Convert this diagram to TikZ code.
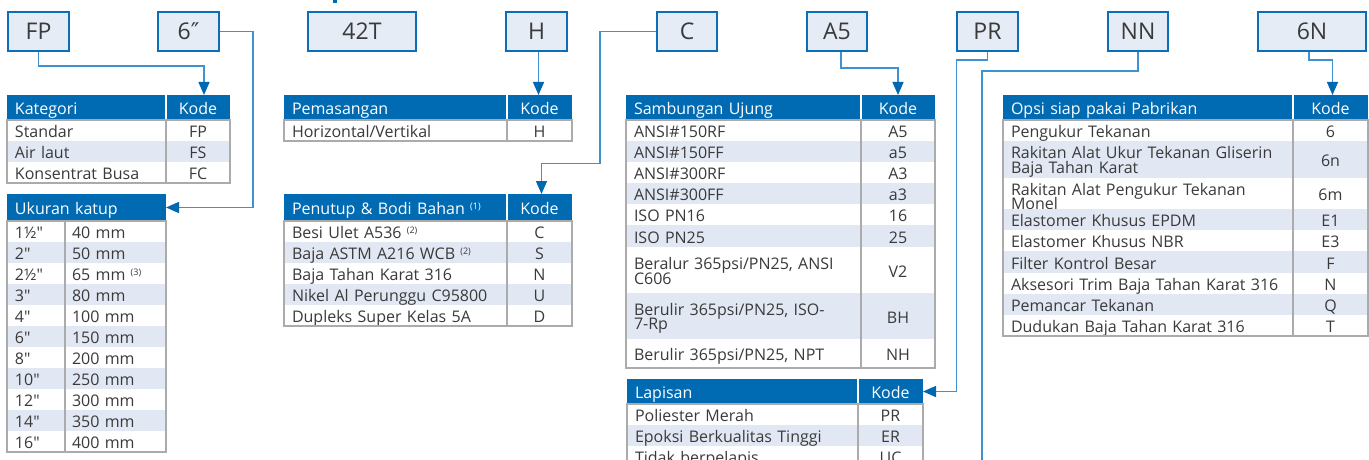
\documentclass[tikz,border=0pt]{standalone}
\usepackage{fontspec}
\setmainfont{Open Sans}
\newfontfamily\djv{DejaVu Sans}
\usetikzlibrary{arrows.meta}
\definecolor{hdrblue}{HTML}{006BB3}
\definecolor{rowblue}{HTML}{E1E8F4}
\definecolor{boxfill}{HTML}{E5ECF6}
\definecolor{boxline}{HTML}{0C6EB8}
\definecolor{lineblue}{HTML}{3F92D2}
\definecolor{tipblue}{HTML}{0067B1}
\definecolor{gridgray}{HTML}{ABABAB}
\definecolor{ink}{HTML}{3A3A3A}
\newcommand\bodyfont{\fontsize{16}{14.5}\selectfont\lineskiplimit=-30pt\lineskip=0pt}
\newcommand\cst{\rule[-2.6pt]{0pt}{19.6pt}}
\newcommand\inch{\textquotedbl}
\newcommand\fnote[1]{\raisebox{0.55ex}{\fontsize{9}{9}\selectfont(#1)}}
\newcommand\settab[3]{\def\tXa{#1}\def\tXd{#2}\def\tXb{#3}%
  \pgfmathsetmacro\tabLW{#2-#1-16}\pgfmathsetmacro\tabRW{#3-#2}}
\newcommand\trow[6]{\pgfmathsetmacro\tabHH{#3-#2}%
  \node[cellL,#4,text width=\tabLW pt,minimum height=\tabHH pt] (#1l) at (\tXa,#2) {\cst#5\cst};%
  \node[cellR,#4,minimum width=\tabRW pt,minimum height=\tabHH pt] (#1r) at (\tXd,#2) {\cst#6\cst};}
\newcommand\thead[5]{\trow{#1}{#2}{#3}{fill=hdrblue,text=white}{#4}{#5}%
  \draw[white,line width=1.3pt] (\tXd,#2) -- (\tXd,#3);}
\newcommand\tframe[2]{\draw[grid] (\tXa,#1) rectangle (\tXb,#2); \draw[grid] (\tXd,#1) -- (\tXd,#2);}
\newcommand\urow[5]{%
  \node[cellL,fill=#3,text width=42pt,minimum height=21pt] (#1l) at (7,#2) {\cst#4\cst};%
  \node[cellL,inner xsep=7pt,fill=#3,text width=87pt,minimum height=21pt] (#1r) at (65,#2) {\cst#5\cst};}
\begin{document}
\begin{tikzpicture}[x=1pt,y=-1pt,
  topbox/.style={draw=boxline,line width=2pt,fill=boxfill,minimum height=39pt,text=ink,font=\fontsize{23}{23}\selectfont,inner sep=0pt},
  cellL/.style={anchor=north west,inner xsep=8pt,inner ysep=0pt,outer sep=0pt,align=left,text=ink,font=\bodyfont},
  cellR/.style={anchor=north west,inner sep=0pt,outer sep=0pt,align=center,text=ink,font=\bodyfont},
  conn/.style={draw=lineblue,line width=1.4pt},
  arr/.style={conn,-{Triangle[width=11pt,length=13pt,color=tipblue]}},
  grid/.style={draw=gridgray,line width=1.3pt},
]
\useasboundingbox (0,0) rectangle (1369,460);
\clip (0,0) rectangle (1369,460);
\fill[hdrblue] (333,0) rectangle (337,3.5);

% top code boxes
\node[topbox,minimum width=61pt] (fp) at (38.5,31.5) {FP};
\node[topbox,minimum width=61pt] (six) at (188.5,31.5) {6{\djv ″}};
\node[topbox,minimum width=108pt] (t42) at (362,31.5) {42T};
\node[topbox,minimum width=61pt] (h) at (536.5,31.5) {H};
\node[topbox,minimum width=60pt] (c) at (687,31.5) {C};
\node[topbox,minimum width=60pt] (a5) at (837,31.5) {A5};
\node[topbox,minimum width=61pt] (pr) at (987.5,31.5) {PR};
\node[topbox,minimum width=60pt] (nn) at (1138,31.5) {NN};
\node[topbox,minimum width=108pt] (sixn) at (1312,31.5) {6N};

% Kategori
\settab{7}{166}{230}
\thead{kat}{95}{120}{Kategori}{Kode}
\trow{kat1}{120}{141}{fill=white}{Standar}{FP}
\trow{kat2}{141}{162}{fill=rowblue}{Air laut}{FS}
\trow{kat3}{162}{183}{fill=white}{Konsentrat Busa}{FC}
\tframe{120}{183}

% Ukuran katup
\node[cellL,fill=hdrblue,text=white,text width=143pt,minimum height=27pt] (ukh) at (7,194) {\cst Ukuran katup\cst};
\urow{uk1}{221}{white}{1½\inch}{40 mm}
\urow{uk2}{242}{rowblue}{2\inch}{50 mm}
\urow{uk3}{263}{white}{2½\inch}{65 mm \fnote{3}}
\urow{uk4}{284}{rowblue}{3\inch}{80 mm}
\urow{uk5}{305}{white}{4\inch}{100 mm}
\urow{uk6}{326}{rowblue}{6\inch}{150 mm}
\urow{uk7}{347}{white}{8\inch}{200 mm}
\urow{uk8}{368}{rowblue}{10\inch}{250 mm}
\urow{uk9}{389}{white}{12\inch}{300 mm}
\urow{uk10}{410}{rowblue}{14\inch}{350 mm}
\urow{uk11}{431}{white}{16\inch}{400 mm}
\draw[grid] (7,221) rectangle (166,452);
\draw[grid] (65,221) -- (65,452);

% Pemasangan
\settab{284}{507}{572}
\thead{pem}{95}{120}{Pemasangan}{Kode}
\trow{pem1}{120}{141}{fill=white}{Horizontal/Vertikal}{H}
\tframe{120}{141}

% Penutup
\settab{284}{507}{572}
\thead{pen}{194}{221}{Penutup \& Bodi Bahan \fnote{1}}{Kode}
\trow{pen1}{221}{242}{fill=white}{Besi Ulet A536 \fnote{2}}{C}
\trow{pen2}{242}{263}{fill=rowblue}{Baja ASTM A216 WCB \fnote{2}}{S}
\trow{pen3}{263}{284}{fill=white}{Baja Tahan Karat 316}{N}
\trow{pen4}{284}{305}{fill=rowblue}{Nikel Al Perunggu C95800}{U}
\trow{pen5}{305}{326}{fill=white}{Dupleks Super Kelas 5A}{D}
\tframe{221}{326}

% Sambungan Ujung
\settab{626}{861}{935}
\thead{sam}{95}{120}{Sambungan Ujung}{Kode}
\trow{sam1}{120}{141}{fill=white}{ANSI\#150RF}{A5}
\trow{sam2}{141}{162}{fill=rowblue}{ANSI\#150FF}{a5}
\trow{sam3}{162}{183}{fill=white}{ANSI\#300RF}{A3}
\trow{sam4}{183}{204}{fill=rowblue}{ANSI\#300FF}{a3}
\trow{sam5}{204}{225}{fill=white}{ISO PN16}{16}
\trow{sam6}{225}{247}{fill=rowblue}{ISO PN25}{25}
\trow{sam7}{247}{293}{fill=white}{Beralur 365psi/PN25, ANSI\\C606}{V2}
\trow{sam8}{293}{339}{fill=rowblue}{Berulir 365psi/PN25, ISO-\\7-Rp}{BH}
\trow{sam9}{339}{368}{fill=white}{Berulir 365psi/PN25, NPT}{NH}
\tframe{120}{368}

% Lapisan
\settab{627}{858}{923}
\thead{lap}{379}{404}{Lapisan}{Kode}
\trow{lap1}{404}{425}{fill=white}{Poliester Merah}{PR}
\trow{lap2}{425}{446}{fill=rowblue}{Epoksi Berkualitas Tinggi}{ER}
\trow{lap3}{446}{467}{fill=white}{Tidak berpelapis}{UC}
\tframe{404}{467}

% Opsi
\settab{1003}{1293}{1368}
\thead{ops}{95}{120}{Opsi siap pakai Pabrikan}{Kode}
\trow{ops1}{120}{141}{fill=white}{Pengukur Tekanan}{6}
\trow{ops2}{141}{178}{fill=rowblue}{Rakitan Alat Ukur Tekanan Gliserin\\Baja Tahan Karat}{6n}
\trow{ops3}{178}{209}{fill=white}{Rakitan Alat Pengukur Tekanan\\Monel}{6m}
\trow{ops4}{209}{230}{fill=rowblue}{Elastomer Khusus EPDM}{E1}
\trow{ops5}{230}{251}{fill=white}{Elastomer Khusus NBR}{E3}
\trow{ops6}{251}{273}{fill=rowblue}{Filter Kontrol Besar}{F}
\trow{ops7}{273}{294}{fill=white}{Aksesori Trim Baja Tahan Karat 316}{N}
\trow{ops8}{294}{315}{fill=rowblue}{Pemancar Tekanan}{Q}
\trow{ops9}{315}{336}{fill=white}{Dudukan Baja Tahan Karat 316}{T}
\tframe{120}{336}

% connectors
\draw[arr] (fp.south) -- ++(0,14) -| ([xshift=6pt]katr.north);
\draw[arr] (six.east) -- ++(33,0) |- (ukh.east);
\draw[arr] ([xshift=2pt]h.south) -- ([xshift=2pt]h.south |- pemr.north);
\draw[arr] (c.west) -- ++(-56,0) -- ++(0,132) -| ([xshift=2pt]penr.north);
\draw[arr] ([xshift=4pt]a5.south) -- ++(0,16) -| (samr.north);
\draw[arr] (pr.south) -- ++(0,8) -- ++(-31,0) |- (lapr.east);
\coordinate (nnend) at (982,470);
\draw[conn] (nn.south) -- ++(0,19) -| (nnend);
\draw[arr] ([xshift=-3pt]sixn.south) -- ++(0,8) -| ([xshift=2pt]opsr.north);
\end{tikzpicture}
\end{document}
